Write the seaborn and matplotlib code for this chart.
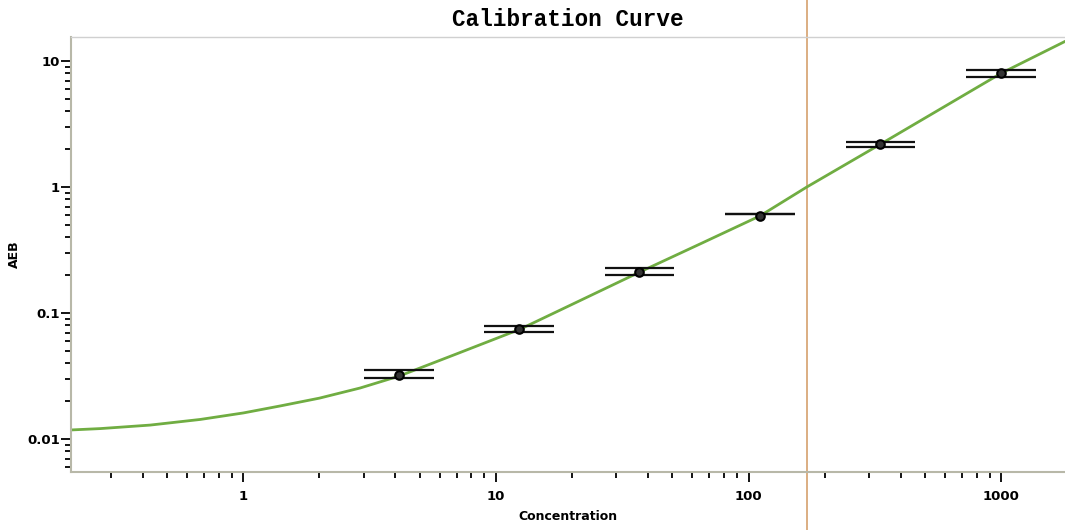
import numpy as np
import pandas as pd
import matplotlib
matplotlib.use("Agg")
import matplotlib.pyplot as plt
import matplotlib.ticker as mticker
import seaborn as sns

# fitted calibration curve
curve_x = [0.208, 0.272, 0.428, 0.676, 1.0, 1.40, 2.0, 2.9, 4.14, 6.97, 12.5,
           20.0, 37.0, 65.0, 111.0, 170.0, 333.0, 1000.0, 1800.0]
curve_y = [0.0118, 0.0121, 0.0129, 0.0143, 0.0161, 0.0183, 0.0211, 0.0254, 0.0316,
           0.0473, 0.0746, 0.117, 0.211, 0.357, 0.59, 1.0, 2.19, 8.0, 14.4]

# standards: concentration, mean response and the two replicate bars
conc = [4.12, 12.35, 37.0, 111.0, 333.0, 1000.0]
aeb = [0.0322, 0.0746, 0.211, 0.589, 2.19, 8.03]
aeb_hi = [0.0353, 0.0789, 0.2275, 0.611, 2.276, 8.49]
aeb_lo = [0.0305, 0.0706, 0.2005, 0.606, 2.075, 7.46]

cutoff = 170.0

x_ticks = [1, 10, 100, 1000]
x_labels = ["1", "10", "100", "1000"]
y_ticks = [0.01, 0.1, 1, 10]
y_labels = ["0.01", "0.1", "1", "10"]

sns.set_style("white")
plt.rcParams["font.family"] = ["DejaVu Sans"]
plt.rcParams["text.color"] = "black"
plt.rcParams["axes.labelcolor"] = "black"
plt.rcParams["xtick.color"] = "black"
plt.rcParams["ytick.color"] = "black"

fig = plt.figure(figsize=(10.65, 5.30), dpi=100)
ax = fig.add_axes([0.0667, 0.1094, 0.9333, 0.8206])

curve = pd.DataFrame({"Concentration": curve_x, "AEB": curve_y})
pts = pd.DataFrame({"Concentration": conc, "AEB": aeb})

ax.set_xscale("log")
ax.set_yscale("log")

sns.lineplot(data=curve, x="Concentration", y="AEB", ax=ax,
             color="#70ad42", linewidth=2.0, zorder=2)

# replicate bars, constant width in log space
half = 1.375
xs_lo = [c / half for c in conc]
xs_hi = [c * half for c in conc]
ax.hlines(aeb_hi, xs_lo, xs_hi, color="#111111", linewidth=1.6, zorder=3)
ax.hlines(aeb_lo, xs_lo, xs_hi, color="#111111", linewidth=1.6, zorder=3)

sns.scatterplot(data=pts, x="Concentration", y="AEB", ax=ax, s=38,
                color="#333333", edgecolor="black", linewidth=1.5, zorder=4)

ax.axvline(cutoff, ymin=-0.2, ymax=1.2, color="#d9a878", linewidth=1.3,
           clip_on=False, zorder=1)

ax.set_xlim(0.208, 1790)
ax.set_ylim(0.00547, 15.5)

ax.xaxis.set_major_locator(mticker.FixedLocator(x_ticks))
ax.xaxis.set_major_formatter(mticker.FixedFormatter(x_labels))
ax.yaxis.set_major_locator(mticker.FixedLocator(y_ticks))
ax.yaxis.set_major_formatter(mticker.FixedFormatter(y_labels))
ax.xaxis.set_minor_locator(mticker.LogLocator(base=10, subs=np.arange(2, 10)))
ax.yaxis.set_minor_locator(mticker.LogLocator(base=10, subs=np.arange(2, 10)))
ax.xaxis.set_minor_formatter(mticker.NullFormatter())
ax.yaxis.set_minor_formatter(mticker.NullFormatter())

ax.tick_params(axis="both", which="major", direction="out", length=7, width=1.3,
               color="black", labelcolor="black", labelsize=9.5)
ax.tick_params(axis="both", which="minor", direction="out", length=4, width=1.3,
               color="black")
ax.tick_params(axis="both", which="both", left=True, bottom=True)
for lab in ax.get_xticklabels() + ax.get_yticklabels():
    lab.set_fontweight("bold")
ax.tick_params(axis="x", pad=6)
ax.tick_params(axis="y", pad=1)

for side in ["left", "bottom"]:
    ax.spines[side].set_color("#b8b8a8")
    ax.spines[side].set_linewidth(1.5)
ax.spines["top"].set_color("#d0d0d0")
ax.spines["top"].set_linewidth(1.0)
ax.spines["right"].set_visible(False)

ax.set_xlabel("Concentration", fontsize=9, fontweight="bold", labelpad=5, color="black")
ax.set_ylabel("AEB", fontsize=9, fontweight="bold", color="black")
ax.yaxis.set_label_coords(-0.05, 0.5)
ax.set_title("Calibration Curve", fontsize=16.3, fontweight="bold", color="black",
             family=["Liberation Mono", "DejaVu Sans Mono"], pad=8)

fig.savefig("out.png", dpi=100)
